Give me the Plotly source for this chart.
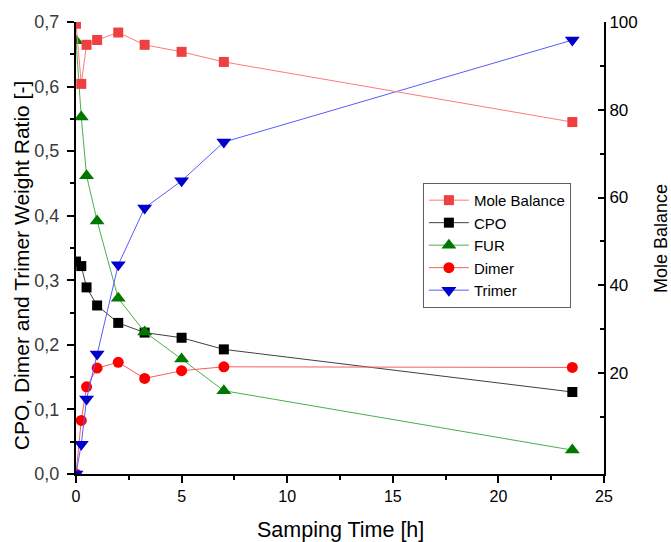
import plotly.graph_objects as go

time_h = [0, 0.25, 0.5, 1, 2, 3.25, 5, 7, 23.5]
mole_balance = [99.6, 85.9, 94.8, 95.9, 97.6, 94.8, 93.2, 90.9, 77.2]
cpo = [0.329, 0.322, 0.289, 0.261, 0.234, 0.219, 0.211, 0.193, 0.127]
fur = [0.671, 0.553, 0.462, 0.392, 0.272, 0.220, 0.178, 0.129, 0.037]
dimer = [0.0, 0.083, 0.135, 0.164, 0.173, 0.148, 0.160, 0.166, 0.165]
trimer = [0.0, 0.046, 0.116, 0.186, 0.324, 0.412, 0.454, 0.514, 0.672]

FONT = "Liberation Sans, Arial, sans-serif"

fig = go.Figure()

fig.add_trace(go.Scatter(x=time_h, y=mole_balance, name="Mole Balance", mode="lines+markers",
                         yaxis="y2",
                         line=dict(color="#FF7A7A", width=1),
                         marker=dict(symbol="square", size=10, color="#EE4040", line=dict(width=0))))
fig.add_trace(go.Scatter(x=time_h, y=cpo, name="CPO", mode="lines+markers",
                         line=dict(color="#404040", width=1),
                         marker=dict(symbol="square", size=10, color="#000000", line=dict(width=0))))
fig.add_trace(go.Scatter(x=time_h, y=fur, name="FUR", mode="lines+markers",
                         line=dict(color="#4CAF4C", width=1),
                         marker=dict(symbol="triangle-up", size=13, color="#007800", line=dict(width=0))))
fig.add_trace(go.Scatter(x=time_h, y=dimer, name="Dimer", mode="lines+markers",
                         line=dict(color="#FF5A5A", width=1),
                         marker=dict(symbol="circle", size=11, color="#FF0000", line=dict(width=0))))
fig.add_trace(go.Scatter(x=time_h, y=trimer, name="Trimer", mode="lines+markers",
                         line=dict(color="#5A5AFF", width=1),
                         marker=dict(symbol="triangle-down", size=13, color="#0000CC", line=dict(width=0))))

axis_common = dict(showline=True, linecolor="black", linewidth=2, showgrid=False, zeroline=False,
                   tickcolor="black", tickwidth=1.5)

fig.update_layout(
    width=671, height=542,
    margin=dict(l=76, r=67, t=22, b=68),
    paper_bgcolor="white", plot_bgcolor="white",
    separators=", ",
    font=dict(family=FONT, size=16, color="black"),
    showlegend=True,
    legend=dict(x=0.657, y=0.644, xanchor="left", yanchor="top",
                bgcolor="white", bordercolor="#606060", borderwidth=1,
                font=dict(family=FONT, size=15, color="black"),
                tracegroupgap=0, itemwidth=40),
    xaxis=dict(range=[0, 25], tick0=0, dtick=5, ticks="outside", ticklen=7,
               minor=dict(dtick=2.5, ticks="outside", ticklen=4, tickcolor="black", tickwidth=1.5),
               tickfont=dict(size=16, color="black"), **axis_common),
    xaxis2=dict(range=[0, 25], tick0=0, dtick=5, ticks="inside", ticklen=7, overlaying="x", side="top",
                anchor="y", showticklabels=False,
                minor=dict(dtick=2.5, ticks="inside", ticklen=4, tickcolor="black", tickwidth=1.5),
                **axis_common),
    yaxis=dict(range=[0, 0.7], tick0=0, dtick=0.1, tickformat=".1f", ticks="outside", ticklen=7,
               ticklabelstandoff=4,
               minor=dict(dtick=0.05, ticks="outside", ticklen=4, tickcolor="black", tickwidth=1.5),
               tickfont=dict(size=18, color="#3a3a3a"), **axis_common),
    yaxis2=dict(range=[-3, 100], tick0=0, dtick=20, ticks="inside", ticklen=6, overlaying="y", side="right",
                anchor="x", tickvals=[20, 40, 60, 80, 100],
                minor=dict(tickvals=[10, 30, 50, 70, 90], ticks="inside", ticklen=4, tickcolor="black", tickwidth=1.5),
                tickfont=dict(size=17, color="black"), **axis_common),
    annotations=[
        dict(text="CPO, Dimer and Trimer Weight Ratio [-]", xref="paper", yref="paper",
             x=-0.104, y=0.462, xanchor="center", yanchor="middle", textangle=-90, showarrow=False,
             font=dict(family=FONT, size=21, color="black")),
        dict(text="Samping Time [h]", xref="paper", yref="paper",
             x=0.5, y=-0.124, xanchor="center", yanchor="middle", showarrow=False,
             font=dict(family=FONT, size=21.5, color="black")),
        dict(text="Mole Balance", xref="paper", yref="paper",
             x=1.108, y=0.52, xanchor="center", yanchor="middle", textangle=-90, showarrow=False,
             font=dict(family=FONT, size=18, color="black")),
    ],
)

fig.write_html("out.html")
